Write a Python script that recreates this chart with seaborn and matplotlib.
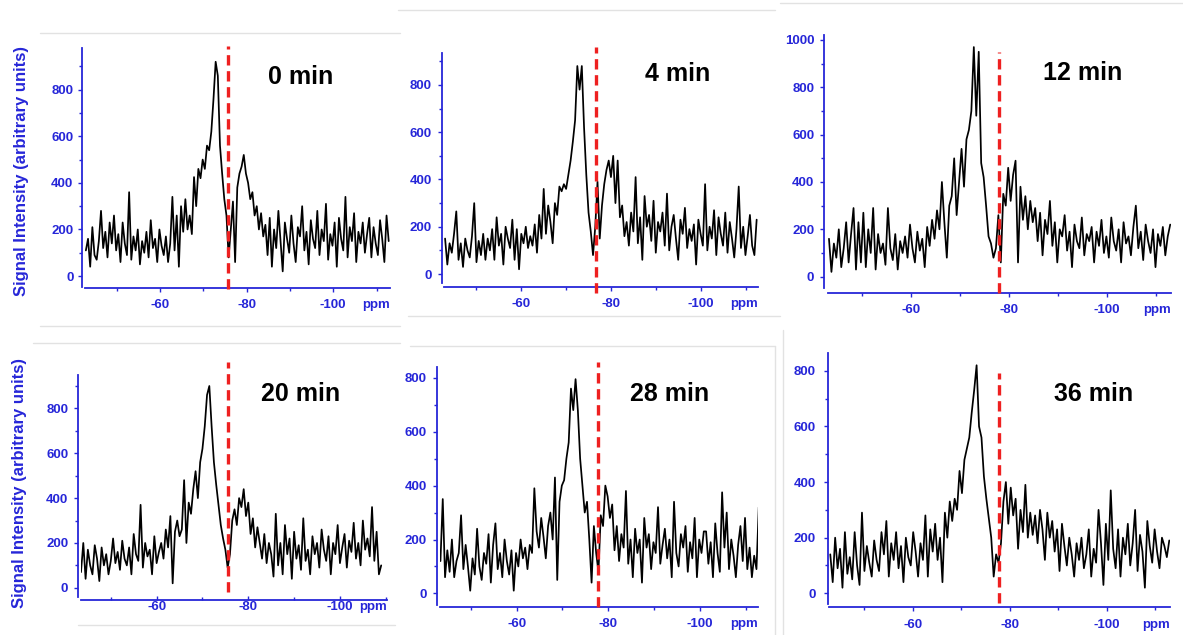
import numpy as np
import pandas as pd
import matplotlib
matplotlib.use("Agg")
import matplotlib.pyplot as plt
from matplotlib.lines import Line2D
from matplotlib.ticker import MultipleLocator
from matplotlib.transforms import ScaledTranslation
import seaborn as sns

sns.set_theme(style="white")
plt.rcParams["font.family"] = ["Liberation Sans", "DejaVu Sans"]
plt.rcParams["font.weight"] = "bold"
plt.rcParams["axes.unicode_minus"] = False

# ---- data -------------------------------------------------------------
times = ["0 min", "4 min", "12 min", "20 min", "28 min", "36 min"]
ppm_start = [-42.9, -43.2, -43.3, -43.5, -43.4, -43.0]
ppm_end = [-112.8, -112.4, -112.9, -109.0, -112.8, -112.9]
ref_ppm = [-75.7, -76.7, -77.9, -75.5, -77.8, -77.7]

intensity_0 = [
    110, 160, 40, 210, 90, 70, 150, 280, 120, 190, 80, 230, 140, 260, 110, 180, 60, 230, 140, 90,
    360, 70, 170, 110, 200, 50, 150, 100, 190, 80, 240, 120, 160, 60, 200, 130, 90, 170, 60, 140,
    340, 110, 260, 40, 300, 190, 330, 200, 260, 180,
    425, 300, 460, 420, 500, 460, 560, 540, 620, 760,
    920, 860, 560, 440, 330, 260, 80, 200, 320, 60, 380, 440, 470, 520, 440, 400, 330, 360, 260, 300,
    200, 270, 170, 220,
    90, 250, 40, 200, 120, 280, 150, 20, 230, 160, 100, 260, 140, 60, 210, 170, 300, 110, 190, 50,
    240, 160, 120, 280, 90, 200, 150, 310, 70, 180, 130, 230, 40, 250, 160, 110, 340, 80, 210, 150,
    270, 60, 190, 140, 230, 100, 180, 250, 80, 210, 140, 90, 240, 160, 60, 260, 150,
]
intensity_4 = [
    150, 40, 130, 90, 170, 265, 60, 130, 30, 150, 100, 70, 160, 300, 50, 140, 80, 170, 60, 150,
    100, 190, 60, 240, 120, 170, 40, 200, 150, 110, 230, 60, 190, 20, 170, 130, 200, 110, 160, 120,
    210, 90, 250, 150, 360, 170, 290, 220, 130, 300,
    250, 370, 350, 380, 360, 420, 480, 560, 650,
    880, 780, 880, 620, 420, 260, 180, 80, 200, 390, 150, 290, 380, 440, 480, 410, 500, 300, 480, 240,
    290, 160, 220, 120, 260,
    180, 410, 130, 240, 60, 330, 200, 250, 140, 310, 90, 220, 180, 260, 120, 340, 100, 200, 250, 150,
    60, 230, 170, 280, 110, 190, 140, 210, 40, 230, 170, 120, 380, 100, 200, 150, 270, 80, 240, 170,
    120, 260, 90, 220, 150, 70, 190, 370, 110, 200, 80, 160, 250, 120, 80, 230,
]
intensity_12 = [
    160, 20, 140, 80, 200, 40, 120, 230, 60, 180, 290, 30, 230, 60, 270, 40, 200, 100, 290, 30,
    180, 100, 140, 50, 290, 120, 70, 180, 30, 150, 100, 170, 80, 220, 120, 60, 190, 110, 160, 40,
    210, 130, 240, 160, 280, 200, 400, 230, 80, 300,
    340, 500, 260, 400, 540, 380, 580, 620, 700, 970,
    680, 950, 480, 420, 300, 170, 140, 80, 120, 260, 60, 350, 300, 460, 320, 430, 490, 60, 380, 240,
    340, 200, 320, 230,
    290, 150, 270, 90, 240, 180, 320, 130, 230, 60, 200, 170, 260, 110, 190, 40, 220, 150, 120, 250,
    90, 180, 150, 210, 60, 190, 130, 240, 100, 170, 80, 250, 150, 110, 200, 60, 230, 140, 170, 90,
    210, 300, 120, 190, 70, 220, 150, 100, 200, 40, 180, 130, 210, 90, 170, 220,
]
intensity_20 = [
    70, 200, 40, 170, 100, 60, 190, 130, 30, 180, 100, 150, 60, 120, 220, 110, 160, 80, 210, 130,
    100, 180, 60, 240, 150, 120, 370, 90, 200, 140, 170, 60, 230, 110, 160, 200, 130, 260, 180,
    320, 20, 250, 300, 230, 260, 480, 200, 380,
    330, 440, 520, 400, 560, 620, 720, 860,
    900, 720, 560, 460, 370, 280, 220, 170, 90, 150, 300, 350, 280, 400, 360, 440, 320, 380, 240, 310,
    180, 270, 200, 130, 240, 110, 200, 150,
    50, 330, 100, 200, 60, 280, 150, 220, 40, 250, 130, 190, 80, 310, 120, 170, 60, 230, 150, 200,
    90, 260, 170, 120, 230, 60, 200, 150, 280, 110, 180, 240, 90, 210, 160, 290, 130, 200, 100, 300,
    170, 220, 140, 360, 120, 250, 60, 100,
]
intensity_28 = [
    120, 350, 60, 160, 80, 200, 60, 120, 150, 290, 90, 180, 100, 10, 130, 70, 240, 100, 50, 150,
    110, 220, 40, 180, 260, 90, 150, 60, 200, 120, 70, 160, 10, 150, 100, 200, 130, 170, 90, 180,
    150, 390, 230, 170, 280, 210, 130, 250, 300, 200,
    430, 50, 340, 400, 420, 500, 560,
    760, 680, 795, 680, 500, 400, 300, 340, 200, 40, 250, 150, 80, 290, 250, 400, 360, 280, 330, 160,
    250, 120, 220, 170, 380, 110, 200,
    60, 240, 150, 200, 40, 280, 170, 220, 90, 190, 150, 320, 110, 180, 240, 130, 200, 60, 340, 150,
    100, 220, 170, 250, 80, 190, 130, 280, 60, 200, 150, 230, 230, 110, 190, 60, 260, 150, 80, 375,
    170, 300, 90, 200, 140, 60, 180, 250, 120, 280, 90, 170, 60, 140, 90, 320,
]
intensity_36 = [
    140, 40, 200, 90, 160, 20, 220, 70, 130, 50, 220, 100, 30, 290, 80, 170, 110, 60, 190, 120,
    80, 220, 140, 260, 60, 180, 120, 220, 90, 170, 40, 200, 130, 100, 220, 150, 60, 180, 120, 280,
    60, 230, 150, 250, 120, 200, 40, 290, 200, 330,
    260, 340, 300, 440, 360, 480, 520, 560, 650, 730,
    820, 600, 560, 420, 340, 270, 200, 60, 140, 110, 180, 330, 400, 250, 380, 280, 340, 160, 300, 220,
    390, 200, 290, 210,
    280, 180, 300, 230, 120, 290, 200, 260, 150, 230, 80, 250, 170, 100, 200, 140, 60, 180, 120, 200,
    90, 140, 230, 60, 160, 110, 300, 180, 30, 250, 120, 370, 160, 90, 230, 60, 200, 140, 250, 100,
    180, 300, 80, 210, 150, 20, 260, 170, 110, 230, 150, 90, 200, 170, 130, 190,
]
spectra = [intensity_0, intensity_4, intensity_12, intensity_20, intensity_28, intensity_36]

frames = []
for t, lo, hi, vals in zip(times, ppm_start, ppm_end, spectra):
    frames.append(pd.DataFrame({
        "ppm": np.linspace(lo, hi, len(vals)),
        "intensity": vals,
        "time": t,
    }))
df = pd.concat(frames, ignore_index=True)

# ---- layout (figure pixels) ------------------------------------------
W, H = 1183, 635
BLUE = "#2626d8"
RED = "#ee2020"

# axes box: left, top, right, bottom
boxes = [
    (85, 48, 390, 287),
    (444, 53, 758, 283),
    (828, 35, 1170.7, 288),
    (81, 375, 386.7, 597),
    (440, 367, 758.3, 605),
    (829.3, 353, 1170, 604),
]
spine_gap = [(3, 1), (2.3, 4), (3.7, 4.7), (2.7, 3), (2.7, 2.3), (1.6, 3.3)]
xlims = [(-42.7, -113.1), (-42.96, -112.7), (-43.1, -113.0),
         (-43.5, -110.2), (-43.3, -112.7), (-42.8, -113.05)]
ylims = [(-47, 979), (-38, 935), (-48, 1021), (-41, 949), (-43, 840), (-38.5, 864)]
ref_extent = [(-0.008, 1.008), (-0.043, 1.027), (-0.02, 0.933),
              (0.023, 1.06), (-0.008, 1.022), (0.003, 0.92)]
xtick_dir = ["out", "out", "out", "in", "out", "out"]
xtick_pad = [4.5, 4.5, 5.0, 1.0, 4.5, 5.5]
ytick_pad = [3.0, 4.0, 4.0, 4.0, 4.5, 5.5]
label_pos = [(301, 77), (678, 74), (1083, 73), (301, 394), (670, 394), (1094, 394)]

px2pt = 72 / 100

fig = plt.figure(figsize=(W / 100, H / 100), dpi=100)
fig.patch.set_facecolor("white")

# faint outlines of the individual panel frames
frame_lines = [
    ((40, 33), (400, 33)), ((40, 326), (400, 326)),
    ((398, 10), (775, 10)), ((408, 316), (780, 316)),
    ((780, 3), (1183, 3)),
    ((33, 343), (400, 343)), ((78, 625), (395, 625)),
    ((410, 346), (775, 346)), ((775, 346), (775, 635)),
    ((783, 330), (783, 635)),
]
for (xa, ya), (xb, yb) in frame_lines:
    fig.add_artist(Line2D([xa / W, xb / W], [1 - ya / H, 1 - yb / H],
                          color="#e2e2e2", lw=1.0, transform=fig.transFigure))

for i, t in enumerate(times):
    l, tp, r, b = boxes[i]
    ax = fig.add_axes([l / W, 1 - b / H, (r - l) / W, (b - tp) / H])
    ax.patch.set_alpha(0)
    sub = df[df["time"] == t]
    sns.lineplot(data=sub, x="ppm", y="intensity", color="black",
                 linewidth=1.25, ax=ax, legend=False)
    ax.axvline(ref_ppm[i], ymin=ref_extent[i][0], ymax=ref_extent[i][1],
               color=RED, lw=2.4, dashes=(3.1, 1.7), clip_on=False, zorder=4)

    ax.set_xlim(*xlims[i])
    ax.set_ylim(*ylims[i])
    ax.set_xlabel("")
    ax.set_ylabel("")

    for side in ("top", "right"):
        ax.spines[side].set_visible(False)
    ax.spines["left"].set_position(("outward", spine_gap[i][0] * px2pt))
    ax.spines["bottom"].set_position(("outward", spine_gap[i][1] * px2pt))
    for side in ("left", "bottom"):
        ax.spines[side].set_color(BLUE)
        ax.spines[side].set_linewidth(1.3)

    ax.xaxis.set_major_locator(MultipleLocator(20))
    ax.xaxis.set_minor_locator(MultipleLocator(10))
    ax.yaxis.set_major_locator(MultipleLocator(200))
    ax.yaxis.set_minor_locator(MultipleLocator(100))
    ax.tick_params(axis="both", which="both", colors=BLUE, labelsize=9.5,
                   width=1.0, left=True, bottom=True)
    ax.tick_params(axis="both", which="major", length=3.2)
    ax.tick_params(axis="both", which="minor", length=2.0)
    ax.tick_params(axis="x", which="both", direction=xtick_dir[i], pad=xtick_pad[i])
    ax.tick_params(axis="y", which="both", direction="out", pad=ytick_pad[i])

    # unit label on the tick label row, at the right end of the axis
    off = xtick_pad[i] + (3.2 if xtick_dir[i] == "out" else 0) + spine_gap[i][1] * px2pt
    ax.text(1.0, 0, "ppm", ha="right", va="top", color=BLUE, fontsize=9.5,
            fontweight="bold",
            transform=ax.transAxes + ScaledTranslation(0, -off / 72, fig.dpi_scale_trans))

    lx, ly = label_pos[i]
    fig.text(lx / W, 1 - ly / H, t, ha="center", va="center",
             fontsize=18, fontweight="bold", color="black")

for cx, cy in [(21.5, 171.5), (20, 482.5)]:
    fig.text(cx / W, 1 - cy / H, "Signal Intensity (arbitrary units)", rotation=90,
             ha="center", va="center", fontsize=12, fontweight="bold", color=BLUE)

fig.savefig("out.png", dpi=100, facecolor="white")
